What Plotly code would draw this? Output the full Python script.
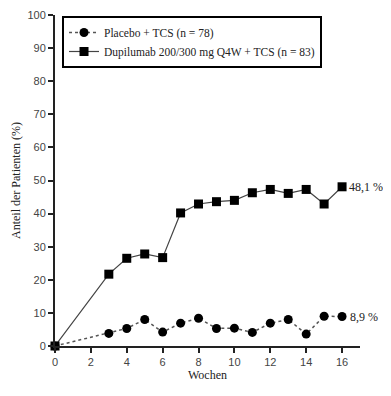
import plotly.graph_objects as go

weeks = [0, 3, 4, 5, 6, 7, 8, 9, 10, 11, 12, 13, 14, 15, 16]
placebo = [0, 3.8, 5.3, 8.0, 4.2, 6.9, 8.4, 5.3, 5.4, 4.1, 6.9, 8.0, 3.6, 9.0, 8.9]
dupilumab = [0, 21.7, 26.5, 27.8, 26.7, 40.2, 42.9, 43.6, 44.0, 46.3, 47.3, 46.1, 47.3, 42.9, 48.1]
x_ticks = [0, 2, 4, 6, 8, 10, 12, 14, 16]
y_ticks = [0, 10, 20, 30, 40, 50, 60, 70, 80, 90, 100]
name_placebo = "Placebo + TCS (n = 78)"
name_dupi = "Dupilumab 200/300 mg Q4W + TCS (n = 83)"
end_labels = ["48,1 %", "8,9 %"]

serif = "Liberation Serif, Times New Roman, serif"
sans = "Liberation Sans, Arial, sans-serif"

fig = go.Figure()
fig.add_trace(go.Scatter(
    x=weeks, y=placebo, name=name_placebo, mode="lines+markers",
    line=dict(color="#555555", width=1.5, dash="dot"),
    marker=dict(symbol="circle", size=9, color="black"),
    cliponaxis=False,
))
fig.add_trace(go.Scatter(
    x=weeks, y=dupilumab, name=name_dupi, mode="lines+markers",
    line=dict(color="#444444", width=1.2),
    marker=dict(symbol="square", size=9, color="black"),
    cliponaxis=False,
))

fig.add_annotation(x=weeks[-1], y=dupilumab[-1], text=end_labels[0], showarrow=False,
                   xanchor="left", xshift=5, font=dict(family=serif, size=12, color="#222"))
fig.add_annotation(x=weeks[-1], y=placebo[-1], text=end_labels[1], showarrow=False,
                   xanchor="left", xshift=6, font=dict(family=serif, size=12, color="#222"))

# page body has an 8px margin, so the figure is sized/offset to compensate
fig.update_layout(
    width=383, height=388,
    margin=dict(l=47, r=31, t=7, b=50, autoexpand=False),
    paper_bgcolor="white", plot_bgcolor="white",
    showlegend=True,
    legend=dict(
        x=0.023, y=0.997, xanchor="left", yanchor="top",
        bordercolor="black", borderwidth=2, bgcolor="white",
        font=dict(family=serif, size=11.5, color="#222"),
        tracegroupgap=0, itemwidth=30,
    ),
    xaxis=dict(
        range=[0, 17], tickvals=x_ticks, ticks="outside", ticklen=5, tickwidth=2,
        tickcolor="#222", showline=True, linecolor="#222", linewidth=2,
        showgrid=False, zeroline=False, automargin=False,
        tickfont=dict(family=sans, size=11, color="#444"),
        title=dict(text="Wochen", font=dict(family=serif, size=12, color="#222"), standoff=0),
    ),
    yaxis=dict(
        range=[0, 100], tickvals=y_ticks, ticks="outside", ticklen=5, tickwidth=2,
        tickcolor="#222", showline=True, linecolor="#222", linewidth=2,
        showgrid=False, zeroline=False, automargin=False,
        tickfont=dict(family=sans, size=11, color="#444"),
        title=dict(text="Anteil der Patienten (%)", font=dict(family=serif, size=12, color="#222"), standoff=4),
    ),
)

fig.write_html("out.html")
